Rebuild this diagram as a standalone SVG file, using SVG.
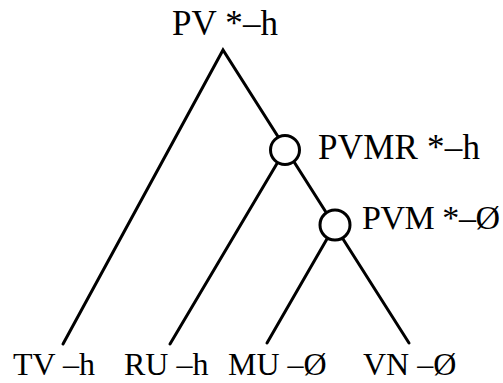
<svg xmlns="http://www.w3.org/2000/svg" width="503" height="383" viewBox="0 0 503 383">
<style>
text{font-family:"Liberation Serif","Times New Roman",serif;fill:#000}
.u{font-size:35px}
.b{font-size:32px}
.e{stroke:#000;stroke-width:3;fill:none;stroke-linecap:round;stroke-linejoin:miter}
.n{stroke:#000;stroke-width:3;fill:#fff}
</style>
<rect width="503" height="383" fill="#fff"/>
<g id="connectors">
<polyline class="e" points="63,344 223,50 409,343"/>
<line class="e" x1="285" y1="150" x2="170" y2="344"/>
<line class="e" x1="335" y1="225" x2="267" y2="343"/>
</g>
<g id="root"><text class="u" x="172" y="35" textLength="106" lengthAdjust="spacing">PV *–h</text></g>
<g id="pvmr"><circle class="n" cx="285" cy="150" r="14.5"/><text class="u" x="318" y="159" textLength="162" lengthAdjust="spacing">PVMR *–h</text></g>
<g id="pvm"><circle class="n" cx="335" cy="225" r="15"/><text class="u" x="362" y="229" style="font-size:34px" textLength="138" lengthAdjust="spacing">PVM *–Ø</text></g>
<g id="tv"><text class="b" x="13" y="375">TV –h</text></g>
<g id="ru"><text class="b" x="124" y="375">RU –h</text></g>
<g id="mu"><text class="b" x="228" y="375">MU –Ø</text></g>
<g id="vn"><text class="b" x="363" y="375">VN –Ø</text></g>
</svg>
